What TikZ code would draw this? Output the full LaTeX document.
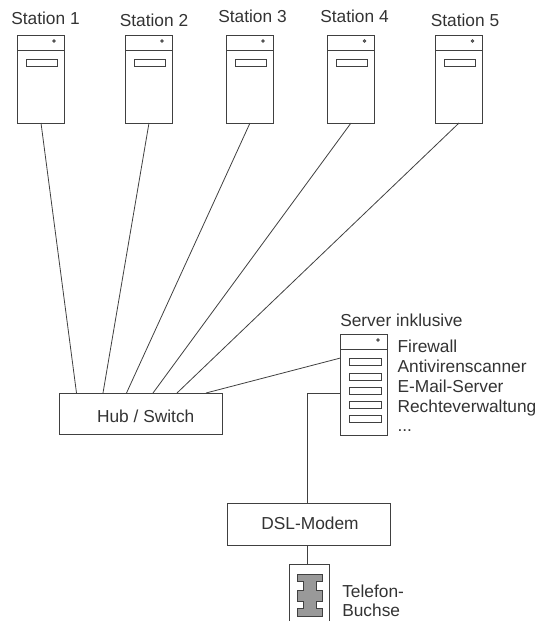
\documentclass[tikz,border=0pt]{standalone}
\usepackage{fontspec}
\setmainfont{Liberation Sans}
\definecolor{ln}{gray}{0.25}
\tikzset{
  x=0.75pt,y=-0.75pt,
  wire/.style={draw=ln,line width=0.6pt},
  boxn/.style={draw=ln,line width=0.75pt,rectangle,inner sep=0pt,outer sep=0pt,anchor=north west},
  lab/.style={anchor=base west,inner sep=0pt,font=\fontsize{13pt}{14pt}\selectfont,text=black!80},
  boxlabel/.style={anchor=base,inner sep=0pt,font=\fontsize{13pt}{14pt}\selectfont,text=black!80},
  slot/.style={draw=ln,line width=0.6pt}
}
\newcommand{\tower}[2]{%
  \node[boxn,minimum width=35.6pt,minimum height=66pt] (#2) at (#1,35) {};
  \draw[wire] (#1,50.5) -- ++(47.5,0);
  \draw[slot] (#1+9,59) rectangle ++(31,7);
  \draw[slot] (#1+37,41) circle (1.3);
}
\begin{document}
\begin{tikzpicture}
\useasboundingbox (0,0) rectangle (539,621);
\tower{17}{s1}\tower{125}{s2}\tower{226}{s3}\tower{327.5}{s4}\tower{435.5}{s5}
\node[lab] at (11,24.5) {Station 1};
\node[lab] at (119.5,26.5) {Station 2};
\node[lab] at (218,22.7) {Station 3};
\node[lab] at (320,22.7) {Station 4};
\node[lab] at (430.5,26.5) {Station 5};
% hub
\node[boxn,minimum width=122.5pt,minimum height=31.2pt] (hub) at (59.5,393) {};
\node[boxlabel] (hubt) at (145.7,422.7) {Hub / Switch};
% server
\node[boxn,minimum width=35.6pt,minimum height=75.8pt] (srv) at (340.5,334) {};
\draw[wire] (340.5,349) -- (388,349);
\draw[slot] (378,340) circle (1.3);
\foreach \y in {358,373,387,401,415}{\draw[slot] (349,\y) rectangle ++(32,7);}
\node[lab] at (340,326) {Server inklusive};
\node[lab] at (397.3,352.5) {Firewall};
\node[lab] at (397.3,372.5) {Antivirenscanner};
\node[lab] at (397.3,392.5) {E-Mail-Server};
\node[lab] at (397.3,412.5) {Rechteverwaltung};
\node[lab] at (397.3,431.5) {...};
% modem
\node[boxn,minimum width=122.25pt,minimum height=31.5pt] (dsl) at (227,503) {};
\node[boxlabel] (dslt) at (310,529) {DSL-Modem};
% phone
\coordinate (pa) at (289.5,621);
\coordinate (pb) at (289.5,564.5);
\coordinate (pc) at (329,564.5);
\coordinate (pd) at (329,621);
\draw[wire,line width=0.75pt] (pa) -- (pb) -- (pc) -- (pd);
\draw[wire,fill=black!40,line width=0.75pt] (297,574) -- (322,574) -- (322,581) -- (316,581) -- (316,590) -- (322,590) -- (322,601) -- (316,601) -- (316,608) -- (322,608) -- (322,616) -- (297,616) -- (297,608) -- (303,608) -- (303,601) -- (297,601) -- (297,590) -- (303,590) -- (303,581) -- (297,581) -- cycle;
\node[lab] at (342,597) {Telefon-};
\node[lab] at (342,616) {Buchse};
% connectors
\coordinate (h1) at (76.5,393);\coordinate (h2) at (103,393);\coordinate (h3) at (126.5,393);\coordinate (h4) at (153,393);\coordinate (h5) at (177,393);\coordinate (h6) at (206,393);
\coordinate (t1) at (41,123);\coordinate (t2) at (149,123);\coordinate (t3) at (250,123);\coordinate (t4) at (351,123);\coordinate (t5) at (459,123);
\draw[wire] (t1) -- (h1);\draw[wire] (t2) -- (h2);\draw[wire] (t3) -- (h3);\draw[wire] (t4) -- (h4);\draw[wire] (t5) -- (h5);
\coordinate (sl) at (340.5,358);\coordinate (sm) at (340.5,393);
\draw[wire] (sl) -- (h6);
\draw[wire] (sm) -- (307.5,393) -- (307.5,503);
\draw[wire] (307.5,545) -- (307.5,564.5);
\end{tikzpicture}
\end{document}
